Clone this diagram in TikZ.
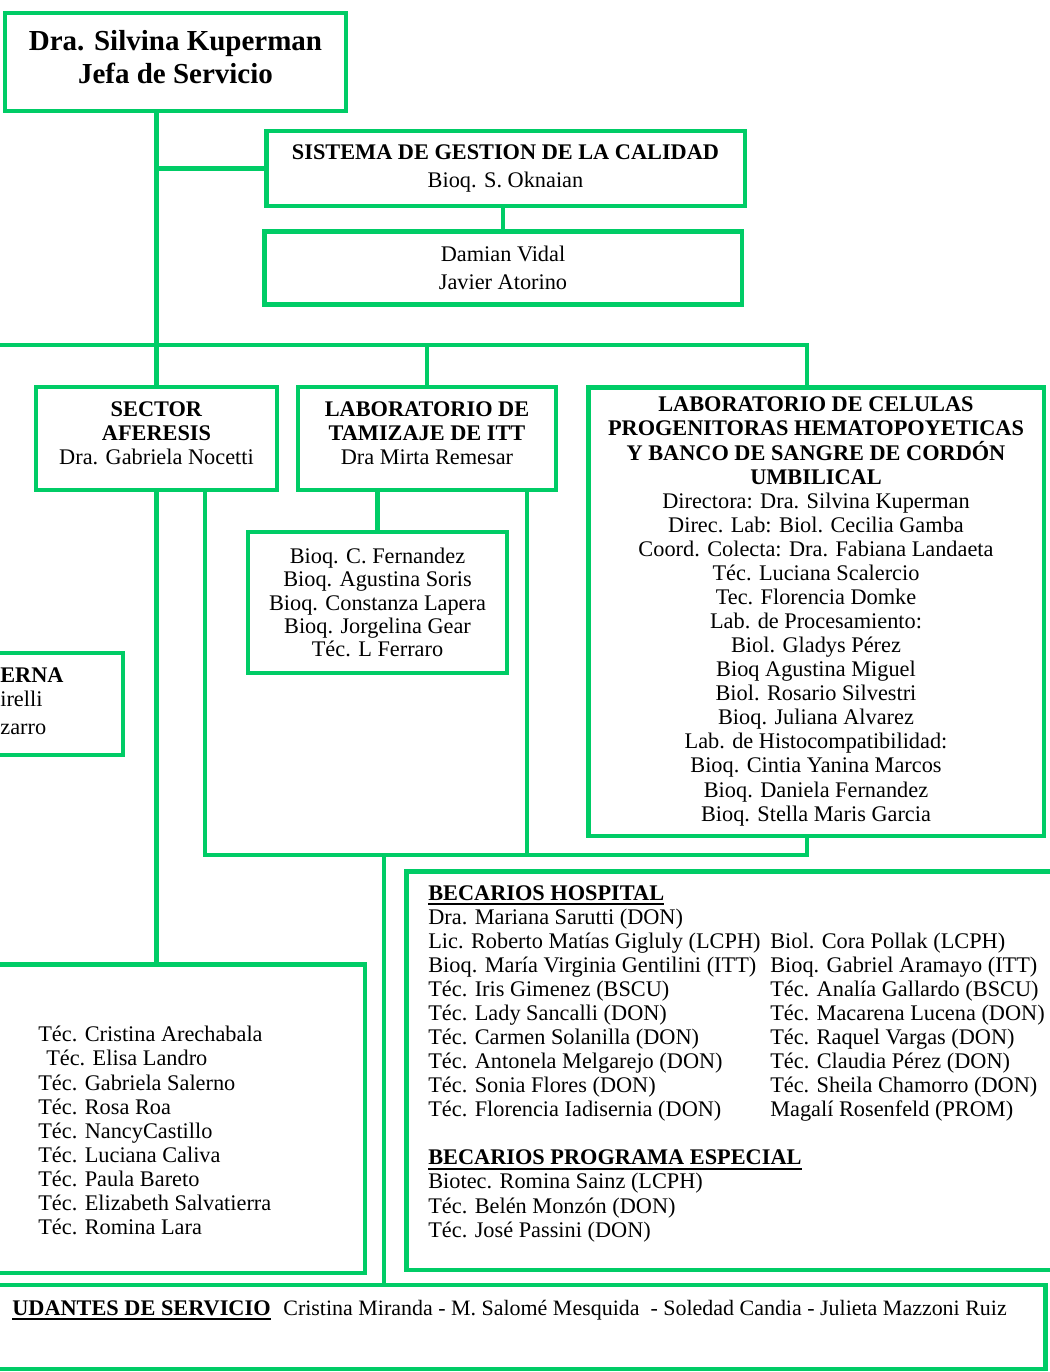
\documentclass[tikz,border=0pt]{standalone}
\usepackage{fontspec}
\setmainfont{Liberation Serif}
\definecolor{verde}{RGB}{0,204,102}
\newcommand{\texto}{\fontsize{12.7pt}{13.7pt}\selectfont}
\newcommand{\subr}[1]{\setbox0=\hbox{#1}\rlap{\rule[-3pt]{\wd0}{1.2pt}}\box0}
\newcommand{\izq}[1]{\makebox[6.84cm][l]{#1}}

\begin{document}
\begin{tikzpicture}[x=0.02cm, y=-0.02cm,
  caja/.style={draw=verde, line width=2.8pt, inner sep=0pt, align=center, font=\texto},
  linea/.style={draw=verde, line width=2.6pt},
  lista/.style={inner sep=0pt, align=left, font=\texto}]
\useasboundingbox (0,0) rectangle (1050,1372);
\clip (0,0) rectangle (1050,1372);

% jefatura y calidad
\node[caja, minimum width=6.82cm, minimum height=1.96cm,
  font=\fontsize{16.5pt}{18.7pt}\selectfont\bfseries] (jefa) at (175.5,62)
  {Dra. Silvina Kuperman\\Jefa de Servicio\\[-13pt]\mbox{}};
\node[caja, minimum width=9.58cm, minimum height=1.5cm,
  font=\fontsize{12.7pt}{15.9pt}\selectfont] (sgc) at (505.5,168.5)
  {\textbf{SISTEMA DE GESTION DE LA CALIDAD}\\Bioq. S. Oknaian};
\node[caja, minimum width=9.56cm, minimum height=1.46cm,
  font=\fontsize{12.7pt}{15.9pt}\selectfont] (vidal) at (503,268)
  {Damian Vidal\\Javier Atorino};

% sectores
\node[caja, minimum width=4.82cm, minimum height=2.06cm] (aferesis) at (156.5,438.5)
  {\textbf{SECTOR}\\\textbf{AFERESIS}\\Dra. Gabriela Nocetti\\[-8pt]\mbox{}};
\node[caja, minimum width=5.16cm, minimum height=2.06cm] (tamizaje) at (427,438.5)
  {\textbf{LABORATORIO DE}\\\textbf{TAMIZAJE DE ITT}\\Dra Mirta Remesar\\[-8pt]\mbox{}};
\node[caja, minimum width=9.12cm, minimum height=8.98cm] (celulas) at (816,611.5)
  {\textbf{LABORATORIO DE CELULAS}\\
   \textbf{PROGENITORAS HEMATOPOYETICAS}\\
   \textbf{Y BANCO DE SANGRE DE CORDÓN}\\
   \textbf{UMBILICAL}\\
   Directora: Dra. Silvina Kuperman\\
   Direc. Lab: Biol. Cecilia Gamba\\
   Coord. Colecta: Dra. Fabiana Landaeta\\
   Téc. Luciana Scalercio\\
   Tec. Florencia Domke\\
   Lab. de Procesamiento:\\
   Biol. Gladys Pérez\\
   Bioq Agustina Miguel\\
   Biol. Rosario Silvestri\\
   Bioq. Juliana Alvarez\\
   Lab. de Histocompatibilidad:\\
   Bioq. Cintia Yanina Marcos\\
   Bioq. Daniela Fernandez\\
   Bioq. Stella Maris Garcia};
\node[caja, minimum width=5.18cm, minimum height=2.82cm,
  font=\fontsize{12.7pt}{13.2pt}\selectfont] (bioq) at (377.5,602.5)
  {Bioq. C. Fernandez\\Bioq. Agustina Soris\\Bioq. Constanza Lapera\\
   Bioq. Jorgelina Gear\\Téc. L Ferraro};

\node[caja, minimum width=5.46cm, minimum height=2.04cm] (externa) at (-13.5,704) {};
\node[lista, anchor=north west] (externa-txt) at (0,667)
  {\textbf{ERNA}\\irelli\\[2.3pt]zarro};

% tecnicos
\node[caja, minimum width=8.44cm, minimum height=6.18cm] (tecnicos) at (154,1118.5) {};
\node[lista, anchor=north west] (tecnicos-txt) at (38,1026)
  {Téc. Cristina Arechabala\\
   \hspace{4.5pt}Téc. Elisa Landro\\
   Téc. Gabriela Salerno\\
   Téc. Rosa Roa\\
   Téc. NancyCastillo\\
   Téc. Luciana Caliva\\
   Téc. Paula Bareto\\
   Téc. Elizabeth Salvatierra\\
   Téc. Romina Lara};

% becarios
\node[caja, minimum width=14.08cm, minimum height=7.98cm] (becarios) at (758,1070.5) {};
\node[lista, anchor=north west] (becarios-txt) at (428,885)
  {\subr{\textbf{BECARIOS HOSPITAL}}\\
   Dra. Mariana Sarutti (DON)\\
   \izq{Lic. Roberto Matías Gigluly (LCPH)}Biol. Cora Pollak (LCPH)\\
   \izq{Bioq. María Virginia Gentilini (ITT)}Bioq. Gabriel Aramayo (ITT)\\
   \izq{Téc. Iris Gimenez (BSCU)}Téc. Analía Gallardo (BSCU)\\
   \izq{Téc. Lady Sancalli (DON)}Téc. Macarena Lucena (DON)\\
   \izq{Téc. Carmen Solanilla (DON)}Téc. Raquel Vargas (DON)\\
   \izq{Téc. Antonela Melgarejo (DON)}Téc. Claudia Pérez (DON)\\
   \izq{Téc. Sonia Flores (DON)}Téc. Sheila Chamorro (DON)\\
   \izq{Téc. Florencia Iadisernia (DON)}Magalí Rosenfeld (PROM)\\[13.7pt]
   \subr{\textbf{BECARIOS PROGRAMA ESPECIAL}}\\
   Biotec. Romina Sainz (LCPH)\\
   Téc. Belén Monzón (DON)\\
   Téc. José Passini (DON)};

% ayudantes
\node[caja, minimum width=21.72cm, minimum height=1.68cm] (ayudantes) at (503,1327) {};
\node[lista, anchor=base east, font=\texto\bfseries] (ayudantes-tit) at (271,1315)
  {\subr{UDANTES DE SERVICIO}};
\node[lista, anchor=base west, font=\fontsize{12.5pt}{13.7pt}\selectfont] (ayudantes-txt) at (283,1315)
  {Cristina Miranda - M. Salomé Mesquida \ - Soledad Candia - Julieta Mazzoni Ruiz};

% conexiones
\coordinate (busL) at (-20,345);
\coordinate (busR) at (807,345);
\coordinate (bajaL) at (205,855);
\coordinate (bajaM) at (527,855);
\coordinate (bajaR) at (807,855);
\coordinate (bajada) at (384,855);

\draw[linea] (jefa.south -| aferesis.north) -- (aferesis.north);
\draw[linea] (aferesis.north |- sgc.west) -- (sgc.west);
\draw[linea] (sgc.south -| vidal.north) -- (vidal.north);
\draw[linea] (busL) -- (busR) -- (busR |- celulas.north);
\draw[linea] (tamizaje.north) -- (tamizaje.north |- busR);
\draw[linea] (bioq.north |- tamizaje.south) -- (bioq.north);
\draw[linea] (aferesis.south) -- (aferesis.south |- tecnicos.north);
\draw[linea] (bajaL |- aferesis.south) -- (bajaL) -- (bajaR) -- (bajaR |- celulas.south);
\draw[linea] (bajaM |- tamizaje.south) -- (bajaM);
\draw[linea] (bajada) -- (bajada |- ayudantes.north);
\end{tikzpicture}
\end{document}
